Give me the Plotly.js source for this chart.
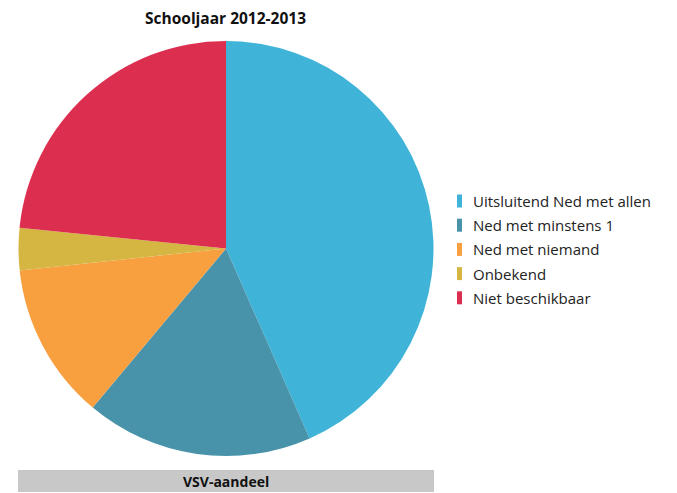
<!DOCTYPE html>
<html>
<head>
<meta charset="utf-8">
<script src="https://cdn.plot.ly/plotly-3.0.1.min.js"></script>
<style>html,body{margin:0;padding:0;background:#fff;}#chart{width:677px;height:493px;}</style>
</head>
<body>
<div id="chart"></div>
<script>
var categories = ["Uitsluitend Ned met allen", "Ned met minstens 1", "Ned met niemand", "Onbekend", "Niet beschikbaar"];
var values = [43.4, 17.7, 12.2, 3.3, 23.4];
var colors = ["#3fb4d8", "#4893aa", "#f89f40", "#d5b642", "#dc2e4f"];
var chartTitle = "Schooljaar 2012-2013";
var footerLabel = "VSV-aandeel";

var W = 677, H = 493;
function px(x){ return x / W; }
function py(y){ return 1 - y / H; }

var font = "Open Sans, Noto Sans, sans-serif";

var trace = {
  type: "pie",
  labels: categories,
  values: values,
  sort: false,
  direction: "clockwise",
  rotation: 0,
  marker: {colors: colors, line: {width: 0}},
  textinfo: "none",
  hoverinfo: "none",
  showlegend: false,
  domain: {x: [px(18.5), px(433.5)], y: [py(456), py(41)]}
};

var shapes = [{
  type: "rect", xref: "paper", yref: "paper",
  x0: px(18), x1: px(434), y0: py(492), y1: py(470),
  fillcolor: "#c8c8c8", line: {width: 0}, layer: "below"
}];
var annotations = [
  {text: "<b>" + chartTitle + "</b>", xref: "paper", yref: "paper", x: px(226), y: py(18),
   xanchor: "center", yanchor: "middle", showarrow: false, font: {family: font, size: 15.5, color: "#111"}},
  {text: "<b>" + footerLabel + "</b>", xref: "paper", yref: "paper", x: px(226), y: py(481),
   xanchor: "center", yanchor: "middle", showarrow: false, font: {family: font, size: 14, color: "#111"}}
];
var legendY0 = 201, legendStep = 24.2;
categories.forEach(function(c, i){
  var yc = legendY0 + i * legendStep;
  shapes.push({type: "rect", xref: "paper", yref: "paper",
    x0: px(457), x1: px(462), y0: py(yc + 6.5), y1: py(yc - 6.5),
    fillcolor: colors[i], line: {width: 0}});
  annotations.push({text: c, xref: "paper", yref: "paper", x: px(471), y: py(yc),
    xanchor: "left", yanchor: "middle", showarrow: false,
    font: {family: font, size: 15, color: "#222"}});
});

var layout = {
  width: W, height: H,
  margin: {l: 0, r: 0, t: 0, b: 0},
  paper_bgcolor: "#fff",
  showlegend: false,
  shapes: shapes,
  annotations: annotations
};
Plotly.newPlot("chart", [trace], layout, {displayModeBar: false, staticPlot: true});
</script>
</body>
</html>
